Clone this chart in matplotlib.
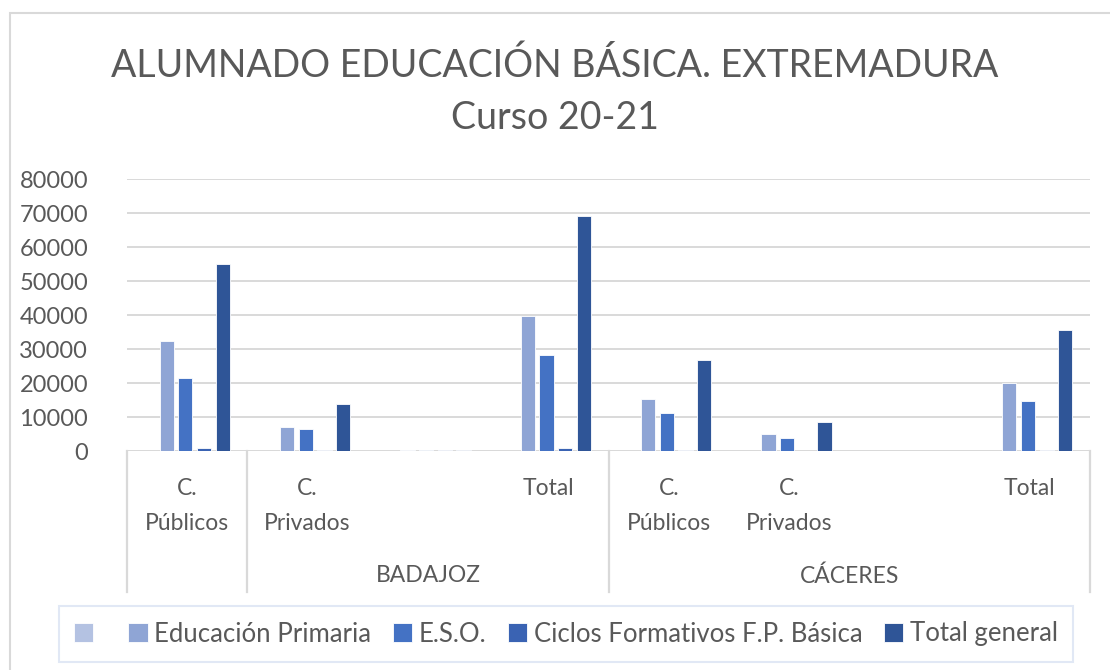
import matplotlib
matplotlib.use("Agg")
import matplotlib.pyplot as plt
import matplotlib.transforms as mtransforms
from matplotlib.patches import Rectangle

plt.rcParams['font.family'] = ['Lato', 'DejaVu Sans']

# datos
categorias = ["C.\nPúblicos", "C.\nPrivados", "", "Total",
              "C.\nPúblicos", "C.\nPrivados", "", "Total"]
grupos = ["", "BADAJOZ", "CÁCERES"]
grupo_limites = [-0.5, 0.5, 3.5, 7.5]

series = ["", "Educación Primaria", "E.S.O.", "Ciclos Formativos F.P. Básica", "Total general"]
sin_nombre = [0, 0, 0, 0, 0, 0, 0, 0]
primaria = [32300, 7050, 300, 39800, 15200, 5000, 0, 20100]
eso = [21400, 6500, 300, 28200, 11200, 3700, 0, 14700]
ciclos = [1000, 250, 300, 1000, 300, 0, 0, 300]
total_general = [54900, 13900, 300, 69100, 26900, 8400, 0, 35700]
valores = [sin_nombre, primaria, eso, ciclos, total_general]
colores = ["#b4c2e2", "#8fa5d5", "#4472c4", "#3a63b3", "#2f5597"]

gris = "#595959"
linea = "#d9d9d9"

fig = plt.figure(figsize=(11.1, 6.7), dpi=100)
W, H = 1110, 670
ax = fig.add_axes([127 / W, 1 - 451 / H, (1090 - 127) / W, (451 - 179) / H])

paso = 0.155
ancho = 0.118
for i, (nombre, vals) in enumerate(zip(series, valores)):
    xs = [k + (i - 2) * paso - 0.015 for k in range(len(categorias))]
    ax.bar(xs, vals, width=ancho, color=colores[i], label=nombre if nombre else " ",
           edgecolor="white", linewidth=0.6, zorder=3)

ax.set_xlim(-0.5, 7.5)
ax.set_ylim(0, 80000)
ax.set_yticks(range(0, 80001, 10000))
ax.set_yticklabels([str(v) for v in range(0, 80001, 10000)], fontsize=17, color=gris)
ax.tick_params(axis="y", length=0, pad=28)
ax.grid(axis="y", color=linea, linewidth=1.4, zorder=0)
for s in ax.spines.values():
    s.set_visible(False)
ax.axhline(0, color=linea, linewidth=1.4, zorder=2)
ax.set_xticks([])

# eje de categorías en dos niveles
trans = mtransforms.blended_transform_factory(ax.transData, ax.transAxes)
fondo = -(592 - 451) / 272
for xl in grupo_limites:
    ax.plot([xl, xl], [0, fondo], color=linea, linewidth=1.6, transform=trans, clip_on=False)
for k, etiqueta in enumerate(categorias):
    ax.text(k, -(478 - 451) / 272, etiqueta, transform=trans, ha="center", va="top",
            fontsize=16.5, color=gris, linespacing=1.8)
for g, nombre in enumerate(grupos):
    centro = (grupo_limites[g] + grupo_limites[g + 1]) / 2
    ax.text(centro, -(576 - 451) / 272, nombre, transform=trans, ha="center", va="center",
            fontsize=16.5, color=gris)

fig.text(0.5, 1 - 66 / H, "ALUMNADO EDUCACIÓN BÁSICA. EXTREMADURA", ha="center", va="center",
         fontsize=27, color=gris)
fig.text(0.5, 1 - 118 / H, "Curso 20-21", ha="center", va="center", fontsize=27, color=gris)

# borde del gráfico
fig.patches.append(Rectangle((10 / W, -0.05), 1.2, 1 - 13 / H + 0.05, transform=fig.transFigure,
                             fill=False, edgecolor=linea, linewidth=1.5))

leg = fig.legend(loc="center", bbox_to_anchor=(566 / W, 1 - 634 / H), ncol=5, fontsize=18.5,
                 frameon=True, fancybox=False, handlelength=0.75, handleheight=0.75,
                 handletextpad=0.25, columnspacing=0.85, borderpad=0.6)
leg.get_frame().set_edgecolor("#dae3f3")
leg.get_frame().set_linewidth(1.5)
for t in leg.get_texts():
    t.set_color(gris)

fig.savefig("out.png", dpi=100)
